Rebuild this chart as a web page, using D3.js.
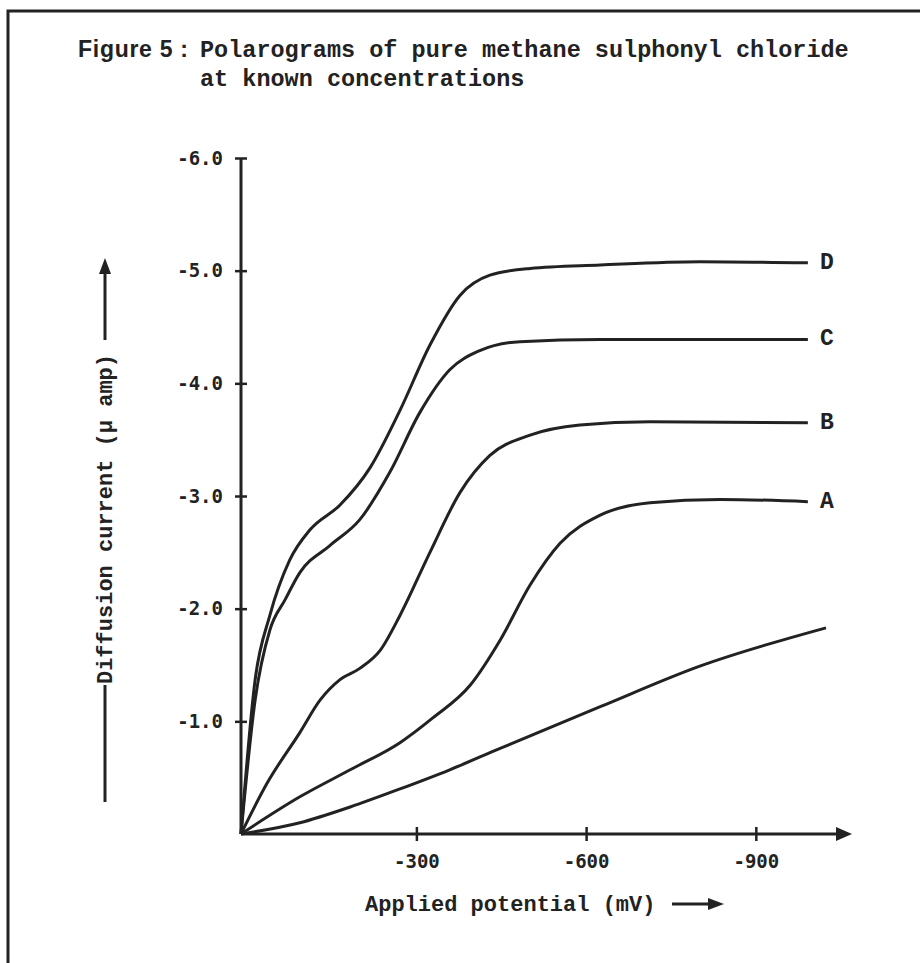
<!DOCTYPE html>
<html lang="en">
  <head>
    <meta charset="UTF-8" />
    <title>Figure 5 polarograms</title>
    <style>
      html,
      body {
        margin: 0;
        background: #fff;
      }
      .mono {
        font-family: "Liberation Mono", "Courier New", monospace;
        font-weight: bold;
        fill: #222;
      }
      .tick text {
        font-family: "DejaVu Sans Mono", monospace;
        font-weight: bold;
        font-size: 19px;
        fill: #222;
      }
    </style>
    <script src="https://cdn.jsdelivr.net/npm/d3@7"></script>
  </head>

  <body>
    <script>
      // data: applied potential (mV) vs diffusion current (uA)
      const baseV = [10, -94, -183, -271, -359, -448, -625, -801, -1024];
      const baseI = [0, -0.1, -0.24, -0.4, -0.57, -0.76, -1.13, -1.49, -1.83];

      const aV = [10, -94, -183, -271, -329, -395, -448, -501, -554, -625, -713, -837, -992];
      const aI = [0, -0.33, -0.57, -0.81, -1.03, -1.32, -1.72, -2.21, -2.58, -2.83, -2.94, -2.97, -2.95];

      const bV = [10, -36, -94, -130, -165, -200, -236, -271, -324, -377, -430, -501, -589, -713, -992];
      const bI = [0, -0.45, -0.9, -1.19, -1.37, -1.47, -1.63, -1.94, -2.5, -3.03, -3.36, -3.54, -3.63, -3.66, -3.65];

      const cV = [10, -15, -41, -68, -94, -147, -200, -253, -306, -359, -412, -483, -625, -992];
      const cI = [0, -1.19, -1.81, -2.08, -2.32, -2.56, -2.79, -3.21, -3.74, -4.12, -4.29, -4.37, -4.39, -4.39];

      const dV = [10, -15, -41, -76, -112, -165, -218, -271, -324, -377, -430, -501, -625, -801, -992];
      const dI = [0, -1.37, -1.94, -2.43, -2.7, -2.92, -3.25, -3.76, -4.34, -4.78, -4.96, -5.02, -5.05, -5.08, -5.07];

      const seriesNames = ["", "A", "B", "C", "D"];
      const xTicks = [-300, -600, -900];
      const yTicks = [-1, -2, -3, -4, -5, -6];

      const series = [
        [baseV, baseI],
        [aV, aI],
        [bV, bI],
        [cV, cI],
        [dV, dI],
      ].map(([v, i], k) => ({
        name: seriesNames[k],
        points: v.map((d, j) => [d, i[j]]),
      }));

      const width = 920;
      const height = 963;

      const svg = d3
        .select("body")
        .append("svg")
        .attr("width", width)
        .attr("height", height);

      // frame (cut off at right and bottom like the scan)
      svg
        .append("rect")
        .attr("x", 8)
        .attr("y", 11)
        .attr("width", 940)
        .attr("height", 990)
        .attr("fill", "none")
        .attr("stroke", "#222")
        .attr("stroke-width", 3);

      // title
      svg
        .append("text")
        .attr("x", 78)
        .attr("y", 57)
        .attr("font-family", "'Liberation Sans Narrow', 'Liberation Sans', sans-serif")
        .attr("font-weight", "bold")
        .attr("font-size", 23)
        .attr("textLength", 110)
        .attr("lengthAdjust", "spacing")
        .attr("fill", "#222")
        .text("Figure 5 :");
      svg
        .append("text")
        .attr("class", "mono")
        .attr("x", 200)
        .attr("y", 57)
        .attr("font-size", 23.5)
        .text("Polarograms of pure methane sulphonyl chloride");
      svg
        .append("text")
        .attr("class", "mono")
        .attr("x", 200)
        .attr("y", 86)
        .attr("font-size", 23.5)
        .text("at known concentrations");

      // scales
      const x = d3.scaleLinear().domain([10, -1070]).range([241, 852]);
      const y = d3.scaleLinear().domain([0, -6]).range([834, 158]);

      // y axis
      const yAxis = d3
        .axisLeft(y)
        .tickValues(yTicks)
        .tickFormat((d) => d.toFixed(1))
        .tickSize(6)
        .tickPadding(12);
      const gy = svg.append("g").attr("transform", `translate(${x(10)},0)`).call(yAxis);
      gy.select(".domain").remove();
      gy.append("line")
        .attr("y1", y(0))
        .attr("y2", y(-6))
        .attr("stroke", "#222")
        .attr("stroke-width", 3);
      gy.selectAll(".tick line")
        .attr("x1", -6)
        .attr("x2", 6)
        .attr("stroke", "#222")
        .attr("stroke-width", 2.5);

      // x axis
      const xAxis = d3
        .axisBottom(x)
        .tickValues(xTicks)
        .tickFormat((d) => d)
        .tickSize(7)
        .tickPadding(14);
      const gx = svg.append("g").attr("transform", `translate(0,${y(0)})`).call(xAxis);
      gx.select(".domain").remove();
      gx.append("line")
        .attr("x1", x(10))
        .attr("x2", x(-1070) - 8)
        .attr("stroke", "#222")
        .attr("stroke-width", 3);
      gx.append("path")
        .attr("d", `M${x(-1070)},0 L${x(-1070) - 16},-7 L${x(-1070) - 16},7 Z`)
        .attr("fill", "#222");
      gx.selectAll(".tick line")
        .attr("y1", -7)
        .attr("y2", 7)
        .attr("stroke", "#222")
        .attr("stroke-width", 2.5);

      // axis titles
      const yl = svg.append("g").attr("transform", "translate(105,0)");
      yl.append("text")
        .attr("class", "mono")
        .attr("font-size", 22)
        .attr("text-anchor", "middle")
        .attr("transform", "translate(7,519) rotate(-90)")
        .text("Diffusion current (μ amp)");
      yl.append("line")
        .attr("y1", 685)
        .attr("y2", 802)
        .attr("stroke", "#222")
        .attr("stroke-width", 3);
      yl.append("line")
        .attr("y1", 340)
        .attr("y2", 272)
        .attr("stroke", "#222")
        .attr("stroke-width", 3);
      yl.append("path").attr("d", "M0,258 L-6,274 L6,274 Z").attr("fill", "#222");

      svg
        .append("text")
        .attr("class", "mono")
        .attr("font-size", 22)
        .attr("x", 365)
        .attr("y", 911)
        .text("Applied potential (mV)");
      svg
        .append("line")
        .attr("x1", 672)
        .attr("x2", 710)
        .attr("y1", 904)
        .attr("y2", 904)
        .attr("stroke", "#222")
        .attr("stroke-width", 3);
      svg.append("path").attr("d", "M724,904 L708,898 L708,910 Z").attr("fill", "#222");

      // curves
      const line = d3
        .line()
        .x((d) => x(d[0]))
        .y((d) => y(d[1]))
        .curve(d3.curveMonotoneX);

      svg
        .selectAll(".curve")
        .data(series)
        .enter()
        .append("path")
        .attr("class", "curve")
        .attr("d", (d) => line(d.points))
        .attr("fill", "none")
        .attr("stroke", "#222")
        .attr("stroke-width", 3)
        .attr("stroke-linejoin", "round");

      // curve labels
      svg
        .selectAll(".lab")
        .data(series.filter((d) => d.name))
        .enter()
        .append("text")
        .attr("class", "mono lab")
        .attr("font-size", 23)
        .attr("text-anchor", "middle")
        .attr("dominant-baseline", "central")
        .attr("x", (d) => x(d.points[d.points.length - 1][0]) + 19)
        .attr("y", (d) => y(d.points[d.points.length - 1][1]))
        .text((d) => d.name);
    </script>
  </body>
</html>
